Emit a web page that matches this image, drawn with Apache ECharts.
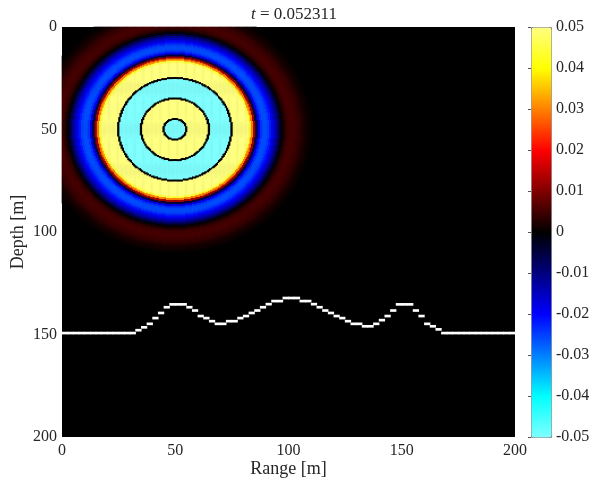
<!DOCTYPE html>
<html style="height: 100%">
<head>
    <meta charset="utf-8">
</head>
<body style="height: 100%; margin: 0">
<div id="container" style="width: 593px; height: 489px"></div>
<script type="text/javascript" src="https://cdn.jsdelivr.net/npm/echarts@6/dist/echarts.min.js"></script>
<script type="text/javascript">
    // axis ticks
    var rangeTicks = [0, 50, 100, 150, 200];
    var depthTicks = [0, 50, 100, 150, 200];
    var colorTicks = [-0.05, -0.04, -0.03, -0.02, -0.01, 0, 0.01, 0.02, 0.03, 0.04, 0.05];
    var colormap = ['#80ffff', '#00ffff', '#0080ff', '#0000ff', '#000080', '#000000',
                    '#800000', '#ff0000', '#ff8000', '#ffff00', '#ffff80'];

    // source position [range, depth] in m
    var source = [50, 50];
    // field value at radius r = index (m) from the source
    var radialProfile = [
        -0.05, -0.05, -0.05, -0.05, -0.05, 0,
        0.05, 0.05, 0.05, 0.05, 0.05, 0.05, 0.05, 0.05, 0.05, 0,
        -0.05, -0.05, -0.05, -0.05, -0.05, -0.05, -0.05, -0.05, -0.05, 0,
        0.05, 0.05, 0.05, 0.05, 0.05, 0.05, 0.05, 0.045, 0.03, 0.012,
        -0.005, -0.018, -0.024, -0.026, -0.026, -0.025, -0.022, -0.019, -0.015, -0.011,
        -0.006, -0.001, 0.002, 0.004, 0.005, 0.0055, 0.0055, 0.005, 0.0045, 0.004,
        0.003, 0.002, 0.0015, 0.001, 0.0005, 0
    ];

    // bottom interface: depth (m) of each 2.5 m range cell
    var bathyStep = 2.5;
    var bathyDepth = [
        149.3, 149.3, 149.3, 149.3, 149.3, 149.3, 149.3, 149.3, 149.3, 149.3, 149.3, 149.3, 149.3,
        147.9, 146.5, 144.8, 142, 139.5, 136.7, 135.3, 135.3, 135.3, 136.7, 138.3, 141, 142,
        143.5, 144.8, 144.8, 143.5, 143.5, 142, 141, 139.5, 138.3, 136.7, 135.2, 133.7, 133.7,
        132.2, 132.2, 132.2, 133.7, 133.7, 135.2, 136.7, 138.3, 139.5, 141, 142, 143.5, 144.8,
        144.8, 146, 146, 144.8, 143, 141, 138.3, 135.3, 135.3, 135.3, 138.3, 141, 144.8, 146, 147.5,
        149.3, 149.3, 149.3, 149.3, 149.3, 149.3, 149.3, 149.3, 149.3, 149.3, 149.3, 149.3, 149.3
    ];

    // field grid: 0.5 m cells
    var cellSize = 0.5;
    var nCells = 400;
    var cats = [];
    for (var c = 0; c < nCells; c++) cats.push(c);

    var cells = [];
    for (var i = 0; i < nCells; i++) {
        for (var j = 0; j < nCells; j++) {
            var dx = (i + 0.5) * cellSize - source[0];
            var dz = (j + 0.5) * cellSize - source[1];
            var k = Math.round(Math.sqrt(dx * dx + dz * dz));
            if (k < radialProfile.length) cells.push([i, j, radialProfile[k]]);
        }
    }
    var bathy = bathyDepth.map(function (z, n) { return [n * bathyStep, z]; });

    var font = 'Liberation Serif';
    var txt = '#262626';

    var dom = document.getElementById("container");
    var myChart = echarts.init(dom);
    var option = {
        animation: false,
        backgroundColor: '#fff',
        title: {
            text: '{i|t} = 0.052311',
            left: 289, top: 1, textAlign: 'center',
            textStyle: {
                fontFamily: font, fontSize: 17, fontWeight: 'normal', color: txt,
                rich: { i: { fontFamily: font, fontSize: 17, fontStyle: 'italic', color: txt } }
            }
        },
        grid: [
            { left: 62, top: 27, width: 453, height: 410, show: true, backgroundColor: '#000', borderWidth: 0,
              containLabel: false, outerBoundsMode: 'none' },
            { left: 531, top: 27, width: 20, height: 410, containLabel: false, outerBoundsMode: 'none' }
        ],
        xAxis: [
            {
                type: 'value', gridIndex: 0,
                min: rangeTicks[0], max: rangeTicks[rangeTicks.length - 1], interval: rangeTicks[1] - rangeTicks[0],
                name: 'Range [m]', nameLocation: 'middle', nameGap: 23, nameMoveOverlap: false,
                nameTextStyle: { fontFamily: font, fontSize: 18, color: txt },
                axisLine: { show: false },
                axisTick: { show: false },
                splitLine: { show: false },
                axisLabel: { fontFamily: font, fontSize: 16, color: txt, margin: 6 }
            },
            { type: 'category', gridIndex: 0, data: cats, show: false },
            { type: 'value', gridIndex: 1, min: 0, max: 1, show: false }
        ],
        yAxis: [
            {
                type: 'value', gridIndex: 0, inverse: true,
                min: depthTicks[0], max: depthTicks[depthTicks.length - 1], interval: depthTicks[1] - depthTicks[0],
                name: 'Depth [m]', nameLocation: 'middle', nameGap: 35, nameRotate: 90, nameMoveOverlap: false,
                nameTextStyle: { fontFamily: font, fontSize: 18, color: txt },
                axisLine: { show: false },
                axisTick: { show: false },
                splitLine: { show: false },
                axisLabel: { fontFamily: font, fontSize: 16, color: txt, margin: 5 }
            },
            { type: 'category', gridIndex: 0, data: cats, inverse: true, show: false },
            {
                type: 'value', gridIndex: 1, position: 'right',
                min: colorTicks[0], max: colorTicks[colorTicks.length - 1], interval: 0.01,
                axisLine: { show: false },
                axisTick: { show: true, inside: true, length: 3, lineStyle: { color: '#555' } },
                splitLine: { show: false },
                axisLabel: {
                    fontFamily: font, fontSize: 16, color: txt, margin: 5,
                    formatter: function (v) { return Math.abs(v) < 1e-9 ? '0' : v.toFixed(2); }
                }
            }
        ],
        visualMap: {
            type: 'continuous',
            min: colorTicks[0], max: colorTicks[colorTicks.length - 1],
            seriesIndex: 0, calculable: false, hoverLink: false,
            left: 531, top: 27, itemWidth: 20, itemHeight: 410, padding: 0,
            borderColor: '#8a8a8a', borderWidth: 1,
            inRange: { color: colormap }
        },
        series: [
            {
                type: 'heatmap', xAxisIndex: 1, yAxisIndex: 1,
                data: cells, progressive: 0,
                itemStyle: { borderWidth: 0 },
                emphasis: { disabled: true }
            },
            {
                type: 'custom', xAxisIndex: 0, yAxisIndex: 0,
                data: bathy, z: 5, clip: true,
                renderItem: function (params, api) {
                    var x0 = api.value(0), zc = api.value(1);
                    var p0 = api.coord([x0, zc - 0.65]);
                    var p1 = api.coord([x0 + bathyStep, zc + 0.65]);
                    return {
                        type: 'rect',
                        shape: { x: p0[0] - 0.3, y: p0[1], width: p1[0] - p0[0] + 0.6, height: p1[1] - p0[1] },
                        style: { fill: '#fff' }
                    };
                }
            }
        ]
    };
    if (option && typeof option === "object") {
        myChart.setOption(option, true);
    }
</script>
</body>
</html>
